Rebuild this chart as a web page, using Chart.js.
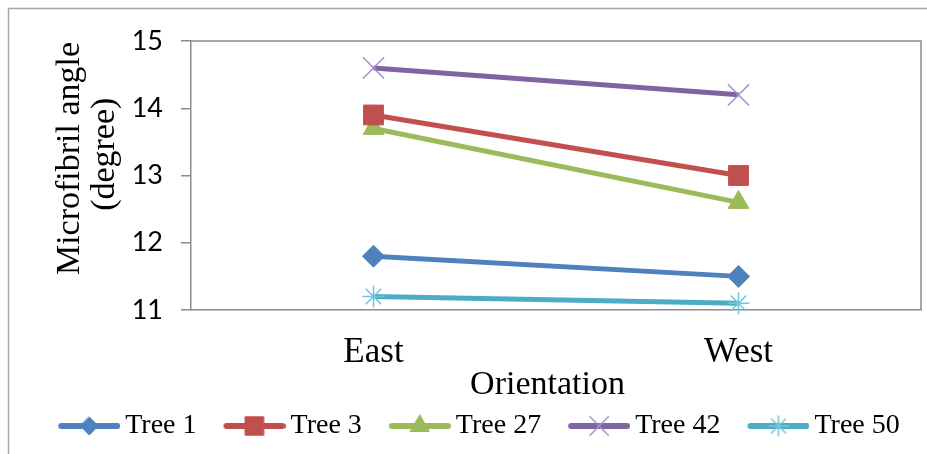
<!DOCTYPE html>
<html><head><meta charset="utf-8">
<script src="https://cdn.jsdelivr.net/npm/chart.js@4.4.1/dist/chart.umd.min.js"></script>
<style>html,body{margin:0;padding:0;background:#fff;} canvas{display:block;}</style>
</head><body>
<canvas id="c" width="927" height="454"></canvas>
<script>
const categories = ['East', 'West'];
const seriesNames = ['Tree 1', 'Tree 3', 'Tree 27', 'Tree 42', 'Tree 50'];
const tree1 = [11.8, 11.5];
const tree3 = [13.9, 13.0];
const tree27 = [13.7, 12.6];
const tree42 = [14.6, 14.2];
const tree50 = [11.2, 11.1];
const yMin = 11, yMax = 15, yStep = 1;
const NB = '\u00A0';
const yTitle = [NB.repeat(4) + 'Microfibril angle', NB.repeat(5) + '(degree)'];
const xTitle = 'Orientation' + NB.repeat(2);

const seriesValues = [tree1, tree3, tree27, tree42, tree50];
const styles = [
  {line: '#4F81BD', marker: 'rectRot', r: 11, fill: '#4F81BD', stroke: '#4F81BD', sw: 1, lr: 9},
  {line: '#C0504D', marker: 'rect', r: 14, fill: '#C0504D', stroke: '#C0504D', sw: 1, lr: 13},
  {line: '#9BBB59', marker: 'triangle', r: 12, fill: '#9BBB59', stroke: '#9BBB59', sw: 1, lr: 11},
  {line: '#8064A2', marker: 'crossRot', r: 15, fill: '#A190C8', stroke: '#A190C8', sw: 1.5, lr: 13},
  {line: '#4BACC6', marker: 'star', r: 11, fill: '#72C6DC', stroke: '#72C6DC', sw: 1.5, lr: 10}
];

function drawMarker(ctx, type, x, y, r, fill, stroke, sw) {
  ctx.save();
  ctx.fillStyle = fill; ctx.strokeStyle = stroke; ctx.lineWidth = sw;
  ctx.beginPath();
  if (type === 'rectRot') {
    ctx.moveTo(x, y - r); ctx.lineTo(x + r, y); ctx.lineTo(x, y + r); ctx.lineTo(x - r, y); ctx.closePath();
    ctx.fill(); ctx.stroke();
  } else if (type === 'rect') {
    const s = r * Math.SQRT1_2;
    ctx.rect(x - s, y - s, 2 * s, 2 * s); ctx.fill(); ctx.stroke();
  } else if (type === 'triangle') {
    for (let i = 0; i < 3; i++) {
      const a = i * 2 * Math.PI / 3;
      const px = x + Math.sin(a) * r, py = y - Math.cos(a) * r;
      if (i === 0) ctx.moveTo(px, py); else ctx.lineTo(px, py);
    }
    ctx.closePath(); ctx.fill(); ctx.stroke();
  } else if (type === 'crossRot') {
    const d = r * Math.SQRT1_2;
    ctx.moveTo(x - d, y - d); ctx.lineTo(x + d, y + d);
    ctx.moveTo(x - d, y + d); ctx.lineTo(x + d, y - d); ctx.stroke();
  } else if (type === 'star') {
    const d = r * Math.SQRT1_2;
    ctx.moveTo(x, y - r); ctx.lineTo(x, y + r);
    ctx.moveTo(x - r, y); ctx.lineTo(x + r, y);
    ctx.moveTo(x - d, y - d); ctx.lineTo(x + d, y + d);
    ctx.moveTo(x - d, y + d); ctx.lineTo(x + d, y - d); ctx.stroke();
  }
  ctx.restore();
}

// legend icons: line with marker, with transparent lead-in on the left
const icons = styles.map(s => {
  const c = document.createElement('canvas');
  c.width = 88; c.height = 28;
  const g = c.getContext('2d');
  g.strokeStyle = s.line; g.lineWidth = 6; g.lineCap = 'round';
  g.beginPath(); g.moveTo(29, 14); g.lineTo(85, 14); g.stroke();
  drawMarker(g, s.marker, 57, 14, s.lr, s.fill, s.stroke, s.sw);
  return c;
});

const frame = {
  id: 'frame',
  beforeDraw(chart) {
    const ctx = chart.ctx;
    ctx.save();
    ctx.strokeStyle = '#A6A6A6'; ctx.lineWidth = 1.5;
    ctx.beginPath(); ctx.moveTo(8.5, 454); ctx.lineTo(8.5, 8.5); ctx.lineTo(927, 8.5); ctx.stroke();
    ctx.restore();
  },
  beforeDatasetsDraw(chart) {
    const {ctx, chartArea: a} = chart;
    ctx.save();
    ctx.strokeStyle = '#8C8C8C'; ctx.lineWidth = 1.5;
    ctx.beginPath(); ctx.moveTo(a.left, a.top); ctx.lineTo(a.right, a.top); ctx.lineTo(a.right, a.bottom); ctx.stroke();
    ctx.restore();
  }
};

const datasets = seriesNames.map((name, i) => ({
  label: name,
  data: seriesValues[i],
  borderColor: styles[i].line,
  backgroundColor: styles[i].fill,
  borderWidth: 5,
  pointStyle: styles[i].marker,
  pointRadius: styles[i].r,
  pointHoverRadius: styles[i].r,
  pointBackgroundColor: styles[i].fill,
  pointBorderColor: styles[i].stroke,
  pointBorderWidth: styles[i].sw,
  tension: 0,
  clip: false
}));

new Chart(document.getElementById('c'), {
  type: 'line',
  data: {labels: categories, datasets},
  plugins: [frame],
  options: {
    responsive: false,
    animation: false,
    devicePixelRatio: 1,
    layout: {autoPadding: false, padding: {left: 20, right: 6, top: 41, bottom: 4}},
    plugins: {
      tooltip: {enabled: false},
      legend: {
        position: 'bottom',
        labels: {
          usePointStyle: true,
          pointStyleWidth: 70,
          boxHeight: 28,
          padding: 10,
          color: '#000',
          font: {family: 'Liberation Serif', size: 28},
          generateLabels(chart) {
            const items = Chart.defaults.plugins.legend.labels.generateLabels(chart);
            return items.map((it, i) => Object.assign(it, {pointStyle: icons[i]}));
          }
        }
      }
    },
    scales: {
      x: {
        offset: true,
        afterFit(s) { s.height = 92; s.paddingLeft = 0; s.paddingRight = 0; },
        grid: {display: true, drawOnChartArea: false, drawTicks: false, tickLength: 0},
        border: {display: true, color: '#8C8C8C', width: 1.5},
        ticks: {color: '#000', padding: 22, font: {family: 'Liberation Serif', size: 35}},
        title: {display: true, text: xTitle, color: '#000', padding: {top: 0, bottom: 0},
                font: {family: 'Liberation Serif', size: 34, lineHeight: 1.0}}
      },
      y: {
        min: yMin, max: yMax,
        afterFit(s) { s.width = 171; },
        grid: {display: true, drawOnChartArea: false, drawTicks: true, tickLength: 10, color: '#8C8C8C', lineWidth: 1.5},
        border: {display: true, color: '#8C8C8C', width: 1.5},
        ticks: {stepSize: yStep, color: '#000', padding: 18, font: {family: 'Lato', size: 27}},
        title: {display: true, text: yTitle, color: '#000', padding: {top: 32, bottom: 0},
                font: {family: 'Liberation Serif', size: 34, lineHeight: 1.05}}
      }
    }
  }
});
</script>
</body></html>
